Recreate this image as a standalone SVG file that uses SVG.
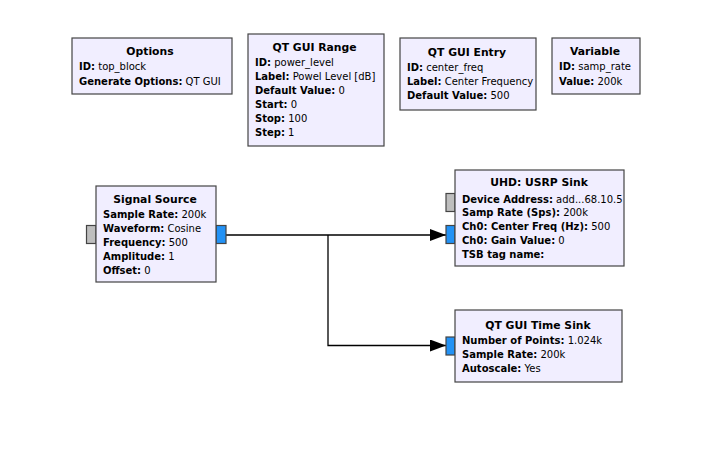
<svg xmlns="http://www.w3.org/2000/svg" width="713" height="457" viewBox="0 0 713 457">
<defs>
<style>
.blk{fill:#F1EEFF;stroke:#444;stroke-width:1.2}
.t{font-family:"DejaVu Sans",sans-serif;font-size:10px;fill:#000}
.ttl{font-weight:bold;text-anchor:middle;font-size:10.8px}
.b{font-weight:bold}
.pg{fill:#BEBEBE;stroke:#444;stroke-width:1.2}
.pb{fill:#2392F5;stroke:#444;stroke-width:1.2}
.wire{fill:none;stroke:#000;stroke-width:1.3}
</style>
<marker id="arr" markerUnits="userSpaceOnUse" viewBox="0 0 16 12" refX="16" refY="6" markerWidth="16" markerHeight="12" orient="auto">
<path d="M0,0 L16,6 L0,12 z" fill="#000"/>
</marker>
</defs>
<rect width="713" height="457" fill="#fff"/>

<g id="connectors">
<path class="wire" d="M226,235 H446" marker-end="url(#arr)"/>
<path class="wire" d="M328,235 V345.5 H446" marker-end="url(#arr)"/>
</g>

<g id="options">
<rect class="blk" x="72" y="38" width="160" height="56"/>
<text class="t ttl" x="150" y="55">Options</text>
<text class="t" x="79" y="70"><tspan class="b">ID:</tspan> top_block</text>
<text class="t" x="79" y="84.5"><tspan class="b">Generate Options:</tspan> QT GUI</text>
</g>

<g id="qt_gui_range">
<rect class="blk" x="248" y="34" width="136" height="112"/>
<text class="t ttl" x="314.5" y="51">QT GUI Range</text>
<text class="t" x="255" y="66"><tspan class="b">ID:</tspan> power_level</text>
<text class="t" x="255" y="80"><tspan class="b">Label:</tspan> Powel Level [dB]</text>
<text class="t" x="255" y="94"><tspan class="b">Default Value:</tspan> 0</text>
<text class="t" x="255" y="108"><tspan class="b">Start:</tspan> 0</text>
<text class="t" x="255" y="122"><tspan class="b">Stop:</tspan> 100</text>
<text class="t" x="255" y="136"><tspan class="b">Step:</tspan> 1</text>
</g>

<g id="qt_gui_entry">
<rect class="blk" x="400" y="38" width="136" height="72"/>
<text class="t ttl" x="467" y="56">QT GUI Entry</text>
<text class="t" x="407" y="70.5"><tspan class="b">ID:</tspan> center_freq</text>
<text class="t" x="407" y="84.5"><tspan class="b">Label:</tspan> Center Frequency</text>
<text class="t" x="407" y="98.5"><tspan class="b">Default Value:</tspan> 500</text>
</g>

<g id="variable">
<rect class="blk" x="552" y="38" width="88" height="56"/>
<text class="t ttl" x="595" y="55">Variable</text>
<text class="t" x="559" y="70"><tspan class="b">ID:</tspan> samp_rate</text>
<text class="t" x="559" y="84.5"><tspan class="b">Value:</tspan> 200k</text>
</g>

<g id="signal_source">
<rect class="pg" x="86.5" y="225.5" width="9.5" height="18"/>
<rect class="pb" x="216" y="225.5" width="10" height="18"/>
<rect class="blk" x="96" y="186" width="120" height="96"/>
<text class="t ttl" x="155" y="202.5">Signal Source</text>
<text class="t" x="103" y="217.5"><tspan class="b">Sample Rate:</tspan> 200k</text>
<text class="t" x="103" y="231.5"><tspan class="b">Waveform:</tspan> Cosine</text>
<text class="t" x="103" y="245.5"><tspan class="b">Frequency:</tspan> 500</text>
<text class="t" x="103" y="259.5"><tspan class="b">Amplitude:</tspan> 1</text>
<text class="t" x="103" y="273.5"><tspan class="b">Offset:</tspan> 0</text>
</g>

<g id="usrp_sink">
<rect class="pg" x="446" y="193.5" width="9" height="18"/>
<rect class="pb" x="446" y="225.5" width="9" height="18"/>
<rect class="blk" x="455" y="170" width="169" height="96"/>
<text class="t ttl" x="539" y="186">UHD: USRP Sink</text>
<text class="t" x="462" y="202.5"><tspan class="b">Device Address:</tspan> add...68.10.5</text>
<text class="t" x="462" y="216"><tspan class="b">Samp Rate (Sps):</tspan> 200k</text>
<text class="t" x="462" y="230"><tspan class="b">Ch0: Center Freq (Hz):</tspan> 500</text>
<text class="t" x="462" y="243.5"><tspan class="b">Ch0: Gain Value:</tspan> 0</text>
<text class="t" x="462" y="257.5"><tspan class="b">TSB tag name:</tspan></text>
</g>

<g id="time_sink">
<rect class="pb" x="446" y="337" width="9" height="18"/>
<rect class="blk" x="455" y="310" width="167" height="72"/>
<text class="t ttl" x="538" y="328.5">QT GUI Time Sink</text>
<text class="t" x="462" y="343.5"><tspan class="b">Number of Points:</tspan> 1.024k</text>
<text class="t" x="462" y="357.5"><tspan class="b">Sample Rate:</tspan> 200k</text>
<text class="t" x="462" y="371.5"><tspan class="b">Autoscale:</tspan> Yes</text>
</g>
</svg>
